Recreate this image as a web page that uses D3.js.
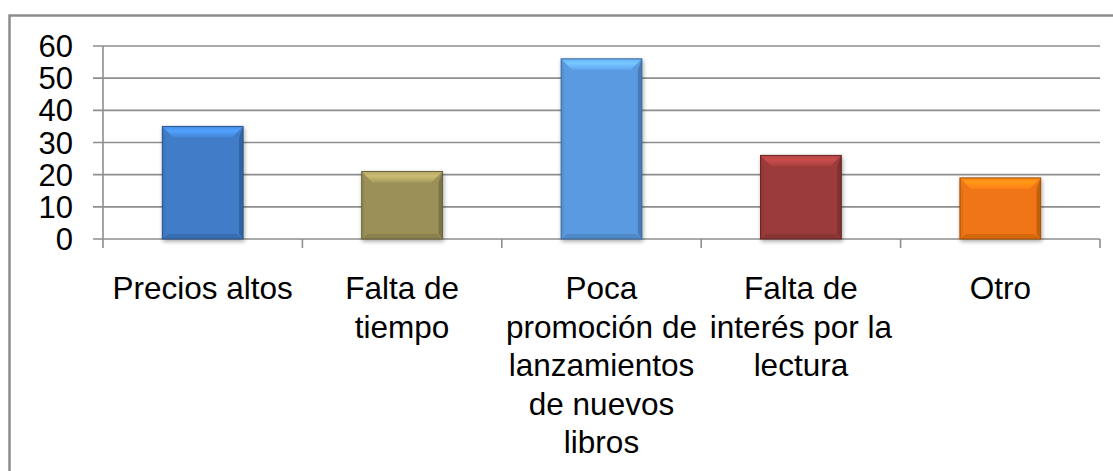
<!DOCTYPE html>
<html>
<head>
<meta charset="utf-8">
<script src="https://cdn.jsdelivr.net/npm/d3@7"></script>
<style>
  html, body { margin: 0; padding: 0; background: #ffffff; }
  svg { display: block; }
  text { font-family: "Liberation Sans", Arial, sans-serif; fill: #000; }
</style>
</head>
<body>
<svg id="chart" width="1113" height="471"></svg>
<script>
// Reasons given for not buying books (percent of respondents)
const categories = [
  "Precios altos",
  "Falta de tiempo",
  "Poca promoción de lanzamientos de nuevos libros",
  "Falta de interés por la lectura",
  "Otro"
];
// Wrapped label lines as they appear under each column
const categoryLines = [
  ["Precios altos"],
  ["Falta de", "tiempo"],
  ["Poca", "promoción de", "lanzamientos", "de nuevos", "libros"],
  ["Falta de", "interés por la", "lectura"],
  ["Otro"]
];
const values = [35, 21, 56, 26, 19];
const barColors = ["#3f7cc8", "#9b9158", "#5a9ae0", "#9c3b3b", "#ef7512"];
const yTicks = [0, 10, 20, 30, 40, 50, 60];

const svg = d3.select("#chart");
const W = 1113, H = 471;

const plot = { left: 103, right: 1100, top: 46, bottom: 239 };

const x = d3.scaleBand().domain(categories).range([plot.left, plot.right]).padding(0);
const y = d3.scaleLinear().domain([0, 60]).range([plot.bottom, plot.top]);
const barFrac = 0.405;

// Outer chart frame (right and bottom edges fall outside the view)
svg.append("rect")
  .attr("x", 9.5).attr("y", 15.5)
  .attr("width", W + 20).attr("height", H + 20)
  .attr("fill", "#ffffff")
  .attr("stroke", "#8d8d8d").attr("stroke-width", 2.5);

// Drop shadow for the columns
const defs = svg.append("defs");
const shadow = defs.append("filter").attr("id", "colShadow")
  .attr("x", "-20%").attr("y", "-10%").attr("width", "140%").attr("height", "125%");
shadow.append("feGaussianBlur").attr("in", "SourceAlpha").attr("stdDeviation", 2.2);
shadow.append("feOffset").attr("dx", 1).attr("dy", 1.5).attr("result", "b");
shadow.append("feComponentTransfer").append("feFuncA").attr("type", "linear").attr("slope", 0.35);
const merge = shadow.append("feMerge");
merge.append("feMergeNode");
merge.append("feMergeNode").attr("in", "SourceGraphic");

// Horizontal gridlines with left tick marks
const grid = svg.append("g");
grid.selectAll("line.grid")
  .data(yTicks)
  .join("line")
  .attr("class", "grid")
  .attr("x1", plot.left - 10).attr("x2", plot.right)
  .attr("y1", d => y(d)).attr("y2", d => y(d))
  .attr("stroke", "#8e8e8e").attr("stroke-width", 1.6);

// Vertical axis line
svg.append("line")
  .attr("x1", plot.left).attr("x2", plot.left)
  .attr("y1", y(60)).attr("y2", y(0) + 9)
  .attr("stroke", "#8e8e8e").attr("stroke-width", 1.6);

// Category boundary tick marks below the baseline
const bounds = categories.map(c => x(c)).concat([x(categories[categories.length - 1]) + x.bandwidth()]);
svg.selectAll("line.xtick")
  .data(bounds.slice(1))
  .join("line")
  .attr("class", "xtick")
  .attr("x1", d => d).attr("x2", d => d)
  .attr("y1", y(0)).attr("y2", y(0) + 9)
  .attr("stroke", "#8e8e8e").attr("stroke-width", 1.6);

// Y tick labels
svg.selectAll("text.ytick")
  .data(yTicks)
  .join("text")
  .attr("class", "ytick")
  .attr("x", 73)
  .attr("y", d => y(d))
  .attr("dy", "0.36em")
  .attr("text-anchor", "end")
  .attr("font-size", 31)
  .text(d => d);

// Beveled columns
const data = categories.map((c, i) => ({ c, v: values[i], color: barColors[i] }));
const bars = svg.selectAll("g.bar")
  .data(data)
  .join("g")
  .attr("class", "bar")
  .attr("filter", "url(#colShadow)");

bars.each(function(d) {
  const g = d3.select(this);
  const bw = x.bandwidth() * barFrac;
  const x0 = x(d.c) + (x.bandwidth() - bw) / 2;
  const x1 = x0 + bw;
  const y0 = y(d.v);
  const y1 = y(0);
  const base = d3.color(d.color);
  const bt = 11, bs = 11, bb = 5;
  const pts = a => a.map(p => p.join(",")).join(" ");

  g.append("rect")
    .attr("x", x0).attr("y", y0).attr("width", bw).attr("height", y1 - y0)
    .attr("fill", base.toString());
  // left side
  g.append("polygon")
    .attr("points", pts([[x0, y0], [x0 + 3, y0 + bt], [x0 + 3, y1 - bb], [x0, y1]]))
    .attr("fill", base.darker(0.15).toString());
  // right side
  g.append("polygon")
    .attr("points", pts([[x1, y0], [x1 - 4, y0 + bt], [x1 - 4, y1 - bb], [x1, y1]]))
    .attr("fill", base.darker(0.6).toString());
  // top bevel
  const gid = "topGrad" + categories.indexOf(d.c);
  const lg = defs.append("linearGradient").attr("id", gid)
    .attr("x1", 0).attr("y1", 0).attr("x2", 0).attr("y2", 1);
  lg.append("stop").attr("offset", "0%").attr("stop-color", base.brighter(0.4).toString());
  lg.append("stop").attr("offset", "40%").attr("stop-color", base.brighter(0.75).toString());
  lg.append("stop").attr("offset", "100%").attr("stop-color", base.brighter(0.2).toString());
  g.append("polygon")
    .attr("points", pts([[x0, y0], [x1, y0], [x1 - bs, y0 + bt], [x0 + bs, y0 + bt]]))
    .attr("fill", `url(#${gid})`);
  // bottom bevel
  g.append("polygon")
    .attr("points", pts([[x0, y1], [x1, y1], [x1 - 6, y1 - bb], [x0 + 6, y1 - bb]]))
    .attr("fill", base.darker(0.35).toString());
  // outline
  g.append("rect")
    .attr("x", x0).attr("y", y0).attr("width", bw).attr("height", y1 - y0)
    .attr("fill", "none")
    .attr("stroke", base.darker(1.1).toString()).attr("stroke-width", 1);
});

// Category labels, centred under each column
const lineH = 38.5;
const labels = svg.selectAll("text.cat")
  .data(categories)
  .join("text")
  .attr("class", "cat")
  .attr("text-anchor", "middle")
  .attr("font-size", 31.5)
  .attr("x", d => x(d) + x.bandwidth() / 2)
  .attr("y", 299);
labels.each(function(d, i) {
  d3.select(this).selectAll("tspan")
    .data(categoryLines[i])
    .join("tspan")
    .attr("x", x(d) + x.bandwidth() / 2)
    .attr("dy", (t, j) => j === 0 ? 0 : lineH)
    .text(t => t);
});
</script>
</body>
</html>
